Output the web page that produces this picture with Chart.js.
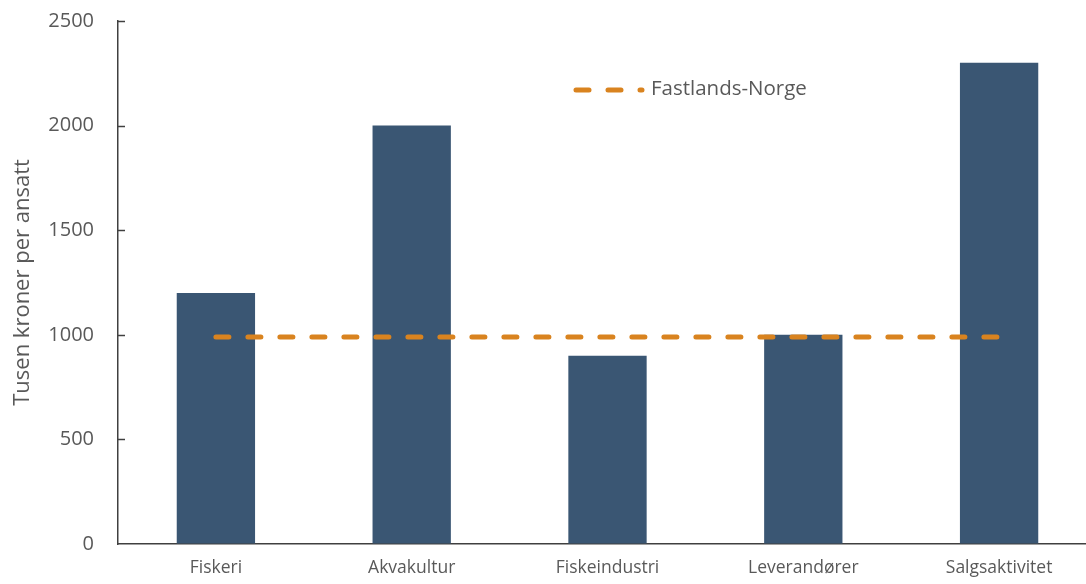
<!DOCTYPE html>
<html>
<head>
<meta charset="utf-8">
<script src="https://cdn.jsdelivr.net/npm/chart.js@4/dist/chart.umd.min.js"></script>
<style>
  html, body { margin: 0; padding: 0; background: #fff; overflow: hidden; }
  #wrap { width: 1097px; height: 584px; position: relative; }
</style>
</head>
<body>
<div id="wrap"><canvas id="chart"></canvas></div>
<script>
// data
const categories = ['Fiskeri', 'Akvakultur', 'Fiskeindustri', 'Leverandører', 'Salgsaktivitet'];
const sectorValues = [1200, 2000, 900, 1000, 2300];
const mainlandValues = [990, 990, 990, 990, 990];
const mainlandLabel = 'Fastlands-Norge';
const yTicks = [0, 500, 1000, 1500, 2000, 2500];

const FONT = "'Open Sans', 'Liberation Sans', sans-serif";
const GREY = '#595959';
const ORANGE = '#D9831F';
const NAVY = '#3A5673';

// Excel style legend floating inside the plot
const floatingLegend = {
  id: 'floatingLegend',
  afterDraw(chart) {
    const c = chart.ctx;
    c.save();
    c.strokeStyle = ORANGE;
    c.lineWidth = 5;
    c.lineCap = 'round';
    c.setLineDash([13, 19]);
    c.beginPath();
    c.moveTo(576, 90);
    c.lineTo(642, 90);
    c.stroke();
    c.setLineDash([]);
    c.fillStyle = GREY;
    c.font = '20.5px ' + FONT;
    c.textBaseline = 'middle';
    c.fillText(mainlandLabel, 651, 89);
    c.restore();
  }
};

// tick marks on the inside of the y axis
const innerTicks = {
  id: 'innerTicks',
  afterDraw(chart) {
    const y = chart.scales.y;
    const c = chart.ctx;
    c.save();
    c.strokeStyle = '#404040';
    c.lineWidth = 1.5;
    yTicks.forEach(v => {
      if (v === 0) return;
      const py = Math.round(y.getPixelForValue(v)) + 0.5;
      c.beginPath();
      c.moveTo(y.right, py);
      c.lineTo(y.right + 7, py);
      c.stroke();
    });
    c.restore();
  }
};

new Chart(document.getElementById('chart'), {
  data: {
    labels: categories,
    datasets: [
      {
        type: 'line',
        label: mainlandLabel,
        data: mainlandValues,
        borderColor: ORANGE,
        borderWidth: 5,
        borderDash: [13, 19],
        borderCapStyle: 'round',
        pointRadius: 0,
        fill: false,
        order: 0
      },
      {
        type: 'bar',
        label: 'Næring',
        data: sectorValues,
        backgroundColor: NAVY,
        barPercentage: 0.4,
        categoryPercentage: 1,
        order: 1
      }
    ]
  },
  options: {
    responsive: true,
    maintainAspectRatio: false,
    animation: false,
    layout: { padding: { top: 21, right: 0, left: 0, bottom: 0 } },
    plugins: {
      legend: { display: false },
      tooltip: { enabled: false }
    },
    scales: {
      x: {
        offset: true,
        grid: { display: false, drawTicks: false },
        border: { color: '#404040', width: 1.5 },
        ticks: { color: GREY, font: { family: FONT, size: 17.5 }, padding: 14, maxRotation: 0 },
        afterFit: s => { s.height = 40; s.paddingLeft = 0; s.paddingRight = 0; }
      },
      y: {
        min: 0,
        max: 2500,
        afterBuildTicks: s => { s.ticks = yTicks.map(v => ({ value: v })); },
        grid: { drawOnChartArea: false, drawTicks: false },
        border: { color: '#404040', width: 1.5 },
        ticks: { color: GREY, font: { family: FONT, size: 20 }, padding: 24, callback: v => String(v) },
        title: {
          display: true,
          text: 'Tusen kroner per ansatt',
          color: GREY,
          font: { family: FONT, size: 22 },
          padding: { top: 10, bottom: 0 }
        },
        afterFit: s => { s.width = 118; s.paddingTop = 0; s.paddingBottom = 0; }
      }
    }
  },
  plugins: [floatingLegend, innerTicks]
});
</script>
</body>
</html>
